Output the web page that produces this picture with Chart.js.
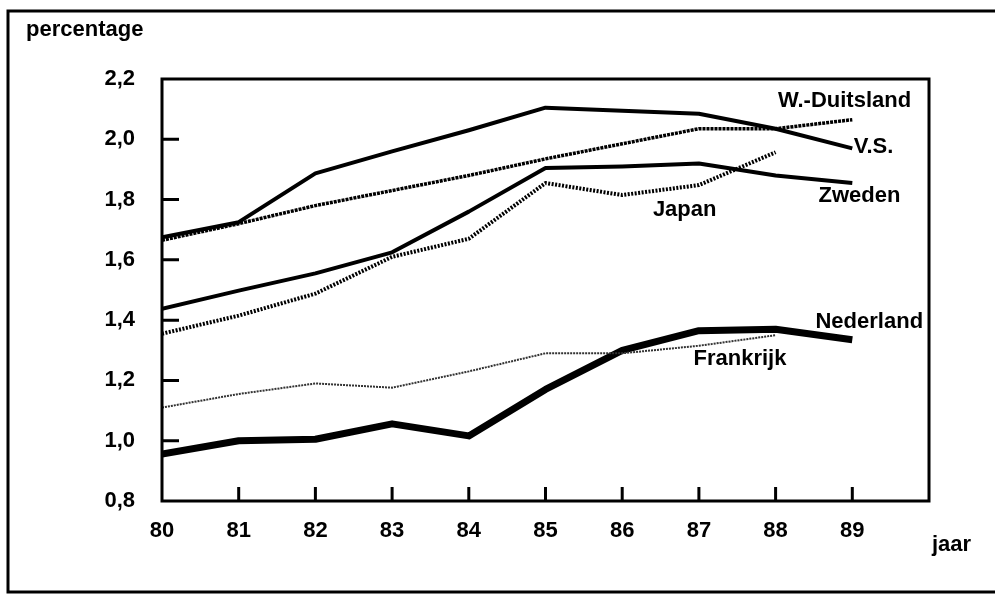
<!DOCTYPE html>
<html>
<head>
<meta charset="utf-8">
<script src="https://cdn.jsdelivr.net/npm/chart.js@4.4.1/dist/chart.umd.min.js"></script>
<style>
  html, body { margin: 0; padding: 0; background: #fff; }
  #wrap { width: 995px; height: 596px; position: relative; }
</style>
</head>
<body>
<div id="wrap"><canvas id="chart"></canvas></div>
<script>
// jaren 80..89
const years = [80, 81, 82, 83, 84, 85, 86, 87, 88, 89];

// percentages per land
const vs          = [1.675, 1.725, 1.887, 1.96, 2.03, 2.105, 2.095, 2.085, 2.035, 1.97];
const wDuitsland  = [1.665, 1.72, 1.78, 1.83, 1.88, 1.935, 1.985, 2.035, 2.035, 2.065];
const zweden      = [1.438, 1.498, 1.555, 1.625, 1.76, 1.905, 1.91, 1.92, 1.88, 1.855];
const japan       = [1.355, 1.415, 1.488, 1.61, 1.67, 1.855, 1.815, 1.848, 1.957];
const frankrijk   = [1.11, 1.155, 1.19, 1.176, 1.23, 1.29, 1.29, 1.315, 1.35];
const nederland   = [0.956, 1.0, 1.005, 1.056, 1.016, 1.17, 1.30, 1.365, 1.37, 1.335];

const yTicks = [0.8, 1.0, 1.2, 1.4, 1.6, 1.8, 2.0, 2.2];

// naam bij de lijnen (in data-eenheden)
const seriesLabels = [
    { text: 'W.-Duitsland', x: 88.03, y: 2.127 },
    { text: 'V.S.',         x: 89.02, y: 1.974 },
    { text: 'Zweden',       x: 88.56, y: 1.811 },
    { text: 'Japan',        x: 86.40, y: 1.764 },
    { text: 'Nederland',    x: 88.52, y: 1.395 },
    { text: 'Frankrijk',    x: 86.93, y: 1.272 }
];

const FAMILY = "'Liberation Sans', Arial, sans-serif";
const FONT = "bold 22px " + FAMILY;

const toPoints = (vals) => vals.map((v, i) => ({ x: years[i], y: v }));

// frame, inward ticks, annotations
const decorPlugin = {
    id: 'decor',
    afterDraw(chart) {
        const ctx = chart.ctx;
        const a = chart.chartArea;
        const xs = chart.scales.x, ys = chart.scales.y;
        ctx.save();
        ctx.strokeStyle = '#000';
        // outer frame (right edge falls outside the picture)
        ctx.lineWidth = 3;
        ctx.strokeRect(8, 11, 1000, 581);
        // plot box
        ctx.lineWidth = 3;
        ctx.strokeRect(a.left, a.top, a.right - a.left, a.bottom - a.top);
        // inward ticks
        ctx.beginPath();
        yTicks.slice(1, -1).forEach(v => {
            const py = ys.getPixelForValue(v);
            ctx.moveTo(a.left, py);
            ctx.lineTo(a.left + 17, py);
        });
        years.slice(1).forEach(v => {
            const px = xs.getPixelForValue(v);
            ctx.moveTo(px, a.bottom);
            ctx.lineTo(px, a.bottom - 14);
        });
        ctx.stroke();
        // texts
        ctx.fillStyle = '#000';
        ctx.font = FONT;
        ctx.textAlign = 'left';
        ctx.textBaseline = 'alphabetic';
        ctx.fillText('percentage', 26, 36);
        ctx.fillText('jaar', 932, 551);
        ctx.textBaseline = 'middle';
        seriesLabels.forEach(l => {
            ctx.fillText(l.text, xs.getPixelForValue(l.x), ys.getPixelForValue(l.y));
        });
        ctx.restore();
    }
};

const line = (label, vals, width, dash, color) => ({
    label,
    data: toPoints(vals),
    borderColor: color || '#000',
    borderWidth: width,
    borderDash: dash,
    borderCapStyle: 'butt',
    borderJoinStyle: 'round',
    pointRadius: 0,
    tension: 0,
    fill: false
});

new Chart(document.getElementById('chart'), {
    type: 'line',
    data: {
        datasets: [
            line('V.S.', vs, 4, []),
            line('W.-Duitsland', wDuitsland, 3.5, [3, 1]),
            line('Zweden', zweden, 4, []),
            line('Japan', japan, 4, [2, 1.5]),
            line('Frankrijk', frankrijk, 2, [2, 1], '#333'),
            line('Nederland', nederland, 7, [])
        ]
    },
    options: {
        responsive: true, maintainAspectRatio: false,
        animation: false,
        layout: { padding: { left: 0, top: 79, right: 66, bottom: 0 } },
        plugins: {
            legend: { display: false },
            tooltip: { enabled: false }
        },
        scales: {
            x: {
                type: 'linear', min: 80, max: 90,
                afterFit: (s) => { s.height = 95; },
                grid: { display: false, drawTicks: false },
                border: { display: false },
                afterBuildTicks: (s) => { s.ticks = years.map(v => ({ value: v })); },
                ticks: {
                    padding: 17,
                    color: '#000',
                    font: { family: FAMILY, size: 22, weight: 'bold' },
                    callback: (v) => String(v)
                }
            },
            y: {
                min: 0.8, max: 2.2,
                afterFit: (s) => { s.width = 162; },
                grid: { display: false, drawTicks: false },
                border: { display: false },
                afterBuildTicks: (s) => { s.ticks = yTicks.map(v => ({ value: v })); },
                ticks: {
                    padding: 27,
                    color: '#000',
                    font: { family: FAMILY, size: 22, weight: 'bold' },
                    callback: (v) => v.toFixed(1).replace('.', ',')
                }
            }
        }
    },
    plugins: [decorPlugin]
});
</script>
</body>
</html>
